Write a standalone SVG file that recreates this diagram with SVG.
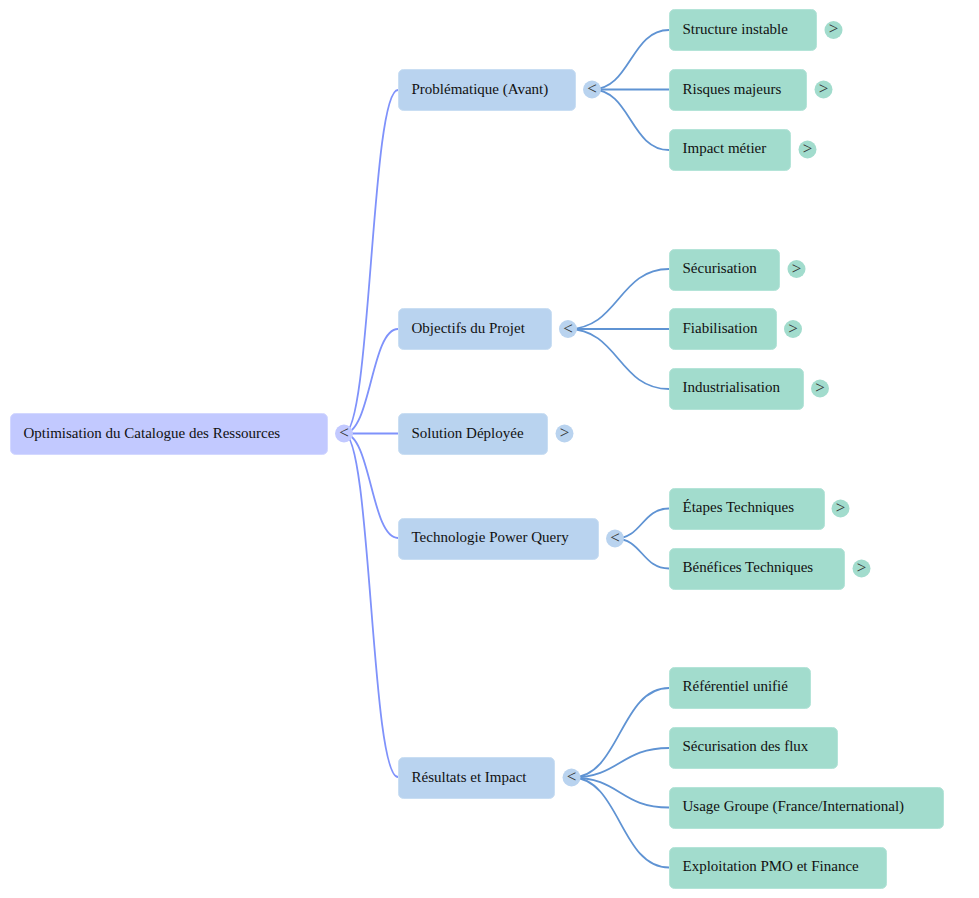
<svg xmlns="http://www.w3.org/2000/svg" width="979" height="898" viewBox="0 0 979 898">
<style>
text{font-family:"Liberation Serif","Times New Roman",serif;font-size:15px;fill:#111}
.n{stroke-width:1}
.r{fill:#c2c9ff;stroke:#d3d8ff}
.b{fill:#b9d3ef;stroke:#c9def3}
.g{fill:#a2dccd;stroke:#b4e4d8}
.cr{fill:#c2c9ff}.cb{fill:#b9d3ef}.cg{fill:#a2dccd}
.t{font-size:17px;fill:#333;text-anchor:middle}
.l1{fill:none;stroke:#7f92fb;stroke-width:1.8}
.l2{fill:none;stroke:#5f93d3;stroke-width:1.8}
</style>
<g id="connectors">
<path class="l1" d="M344 433.500C371 433.500 371 90 398 90"/>
<path class="l1" d="M344 433.500C371 433.500 371 329 398 329"/>
<path class="l1" d="M344 433.500H398"/>
<path class="l1" d="M344 433.500C371 433.500 371 538 398 538"/>
<path class="l1" d="M344 433.500C371 433.500 371 777 398 777"/>
<path class="l2" d="M592 89.500C630.500 89.500 630.500 30 669 30"/>
<path class="l2" d="M592 89.500H669"/>
<path class="l2" d="M592 89.500C630.500 89.500 630.500 150 669 150"/>
<path class="l2" d="M568 329C618.500 329 618.500 269 669 269"/>
<path class="l2" d="M568 329H669"/>
<path class="l2" d="M568 329C618.500 329 618.500 389 669 389"/>
<path class="l2" d="M615 538.500C642 538.500 642 508.500 669 508.500"/>
<path class="l2" d="M615 538.500C642 538.500 642 568.500 669 568.500"/>
<path class="l2" d="M571.500 777.500C620 777.500 620 688 669 688"/>
<path class="l2" d="M571.500 777.500C620 777.500 620 748 669 748"/>
<path class="l2" d="M571.500 777.500C620 777.500 620 807.500 669 807.500"/>
<path class="l2" d="M571.500 777.500C620 777.500 620 867.500 669 867.500"/>
</g>
<g id="root"><rect class="n r" x="10.500" y="413.500" width="317" height="41" rx="5"/><text x="23.500" y="437.500">Optimisation du Catalogue des Ressources</text><circle class="cr" cx="344" cy="433.500" r="9"/><text class="t" x="344" y="438">&lt;</text></g>
<g id="n1"><rect class="n b" x="398.500" y="69.500" width="177" height="41" rx="5"/><text x="411.500" y="93.500">Problématique (Avant)</text><circle class="cb" cx="592" cy="89.500" r="9"/><text class="t" x="592" y="94">&lt;</text></g>
<g id="n2"><rect class="n b" x="398.500" y="308.500" width="153" height="41" rx="5"/><text x="411.500" y="332.500">Objectifs du Projet</text><circle class="cb" cx="568" cy="329" r="9"/><text class="t" x="568" y="333.500">&lt;</text></g>
<g id="n3"><rect class="n b" x="398.500" y="413.500" width="149" height="41" rx="5"/><text x="411.500" y="437.500">Solution Déployée</text><circle class="cb" cx="564.500" cy="433.500" r="9"/><text class="t" x="564.500" y="438">&gt;</text></g>
<g id="n4"><rect class="n b" x="398.500" y="518.500" width="200" height="41" rx="5"/><text x="411.500" y="542">Technologie Power Query</text><circle class="cb" cx="615" cy="538.500" r="9"/><text class="t" x="615" y="543">&lt;</text></g>
<g id="n5"><rect class="n b" x="398.500" y="757.500" width="156" height="41" rx="5"/><text x="411.500" y="781.500">Résultats et Impact</text><circle class="cb" cx="571.500" cy="777.500" r="9"/><text class="t" x="571.500" y="782">&lt;</text></g>
<g id="n11"><rect class="n g" x="669.500" y="9.500" width="147" height="41" rx="5"/><text x="682.500" y="33.500">Structure instable</text><circle class="cg" cx="833.500" cy="30" r="9"/><text class="t" x="833.500" y="34">&gt;</text></g>
<g id="n12"><rect class="n g" x="669.500" y="69.500" width="137" height="41" rx="5"/><text x="682.500" y="93.500">Risques majeurs</text><circle class="cg" cx="823.500" cy="89.500" r="9"/><text class="t" x="823.500" y="94">&gt;</text></g>
<g id="n13"><rect class="n g" x="669.500" y="129.500" width="121" height="41" rx="5"/><text x="682.500" y="153">Impact métier</text><circle class="cg" cx="807.500" cy="149.500" r="9"/><text class="t" x="807.500" y="154">&gt;</text></g>
<g id="n21"><rect class="n g" x="669.500" y="249.500" width="110" height="41" rx="5"/><text x="682.500" y="272.500">Sécurisation</text><circle class="cg" cx="796.500" cy="269" r="9"/><text class="t" x="796.500" y="273.500">&gt;</text></g>
<g id="n22"><rect class="n g" x="669.500" y="308.500" width="107" height="41" rx="5"/><text x="682.500" y="332.500">Fiabilisation</text><circle class="cg" cx="793" cy="329" r="9"/><text class="t" x="793" y="333.500">&gt;</text></g>
<g id="n23"><rect class="n g" x="669.500" y="368.500" width="134" height="41" rx="5"/><text x="682.500" y="392">Industrialisation</text><circle class="cg" cx="820" cy="388.500" r="9"/><text class="t" x="820" y="393">&gt;</text></g>
<g id="n41"><rect class="n g" x="669.500" y="488.500" width="155" height="41" rx="5"/><text x="682.500" y="511.500">Étapes Techniques</text><circle class="cg" cx="840.500" cy="508.500" r="9"/><text class="t" x="840.500" y="513">&gt;</text></g>
<g id="n42"><rect class="n g" x="669.500" y="548.500" width="175" height="41" rx="5"/><text x="682.500" y="571.500">Bénéfices Techniques</text><circle class="cg" cx="861.500" cy="568.500" r="9"/><text class="t" x="861.500" y="573">&gt;</text></g>
<g id="n51"><rect class="n g" x="669.500" y="667.500" width="141" height="41" rx="5"/><text x="682.500" y="691">Référentiel unifié</text></g>
<g id="n52"><rect class="n g" x="669.500" y="727.500" width="168" height="41" rx="5"/><text x="682.500" y="751">Sécurisation des flux</text></g>
<g id="n53"><rect class="n g" x="669.500" y="787.500" width="274" height="41" rx="5"/><text x="682.500" y="810.500">Usage Groupe (France/International)</text></g>
<g id="n54"><rect class="n g" x="669.500" y="847.500" width="217" height="41" rx="5"/><text x="682.500" y="870.500">Exploitation PMO et Finance</text></g>
</svg>
